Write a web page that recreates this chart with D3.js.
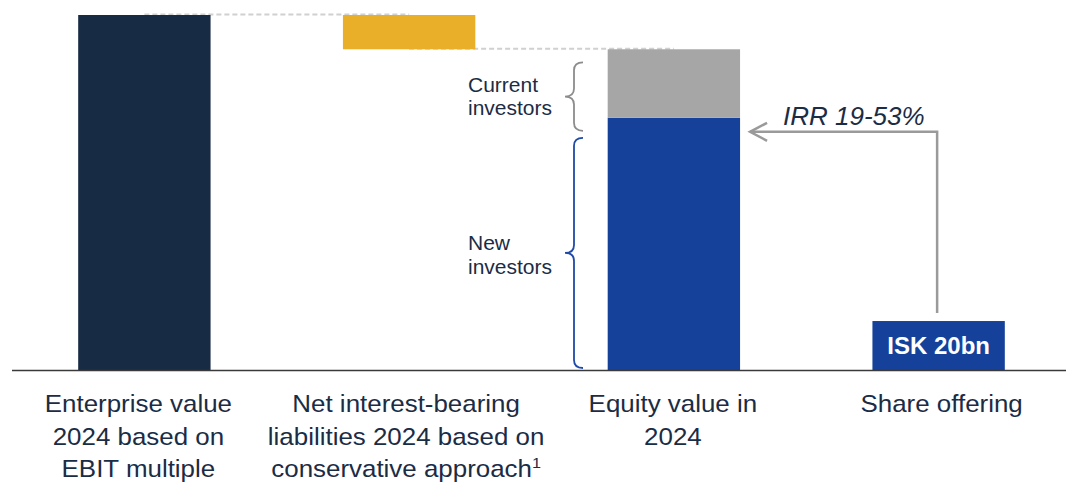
<!DOCTYPE html>
<html>
<head>
<meta charset="utf-8">
<script src="https://cdn.jsdelivr.net/npm/d3@7"></script>
<style>
  body { margin: 0; background: #fff; }
  text { font-family: "Liberation Sans", Arial, sans-serif; }
</style>
</head>
<body>
<div id="chart"></div>
<script>
// data (ISK bn, estimated)
const categories = ["ev", "nibd", "equity", "offering"];
const categoryLabels = [
  ["Enterprise value", "2024 based on", "EBIT multiple"],
  ["Net interest-bearing", "liabilities 2024 based on", "conservative approach"],
  ["Equity value in", "2024"],
  ["Share offering"]
];
const enterpriseValue = 145;
const netDebt = 14;
const currentInvestors = 28;
const newInvestors = 103;
const shareOffering = 20;
const irrLabel = "IRR 19-53%";
const offeringLabel = "ISK 20bn";

const width = 1066;
const height = 485;
const baseY = 370;
const textColor = "#1b2c45";

const svg = d3.select("#chart")
  .append("svg")
  .attr("width", width)
  .attr("height", height);

const x = d3.scaleBand()
  .domain(categories)
  .range([12, 1071])
  .paddingInner(0.5)
  .paddingOuter(0.25);

const y = d3.scaleLinear()
  .domain([0, enterpriseValue])
  .range([baseY, 15]);

const bw = x.bandwidth();
const cx = d => x(d) + bw / 2;

const equityValue = enterpriseValue - netDebt;

// dashed connectors (behind the bars)
const connectors = [
  { from: "ev", to: "nibd", v: enterpriseValue },
  { from: "nibd", to: "equity", v: equityValue }
];
svg.selectAll("line.conn")
  .data(connectors)
  .enter()
  .append("line")
  .attr("x1", d => cx(d.from))
  .attr("x2", d => cx(d.to))
  .attr("y1", d => y(d.v) - 0.5)
  .attr("y2", d => y(d.v) - 0.5)
  .attr("stroke", "#d0d0d0")
  .attr("stroke-width", 2)
  .attr("stroke-dasharray", "5,3");

// bars
const bars = [
  { cat: "ev", y0: 0, y1: enterpriseValue, color: "#172b45" },
  { cat: "nibd", y0: equityValue, y1: enterpriseValue, color: "#e9af28" },
  { cat: "equity", y0: 0, y1: newInvestors, color: "#15419b" },
  { cat: "equity", y0: newInvestors, y1: newInvestors + currentInvestors, color: "#a6a6a6" },
  { cat: "offering", y0: 0, y1: shareOffering, color: "#15419b" }
];
svg.selectAll("rect.bar")
  .data(bars)
  .enter()
  .append("rect")
  .attr("x", d => x(d.cat))
  .attr("width", bw)
  .attr("y", d => y(d.y1))
  .attr("height", d => y(d.y0) - y(d.y1))
  .attr("fill", d => d.color);

// baseline
svg.append("line")
  .attr("x1", 12)
  .attr("x2", width)
  .attr("y1", baseY + 0.5)
  .attr("y2", baseY + 0.5)
  .attr("stroke", "#3a3a3a")
  .attr("stroke-width", 1.5);

// category labels (text boxes sit a little off the bar centres)
const labelShift = [-6, -3, -1, 3];
categoryLabels.forEach((lines, i) => {
  const g = svg.append("g")
    .attr("transform", `translate(${cx(categories[i]) + labelShift[i]},0) scale(1.08,1)`);
  const t = g.append("text")
    .attr("text-anchor", "middle")
    .attr("font-size", 24)
    .attr("fill", textColor);
  lines.forEach((ln, j) => {
    t.append("tspan")
      .attr("x", 0)
      .attr("y", 412 + j * 32.7)
      .text(ln);
  });
  if (i === 1) {
    t.append("tspan")
      .attr("font-size", 15)
      .attr("dy", -9)
      .text("1");
  }
});

// share offering label
svg.append("text")
  .attr("x", cx("offering"))
  .attr("y", (y(shareOffering) + baseY) / 2 + 8.5)
  .attr("text-anchor", "middle")
  .attr("font-size", 24)
  .attr("font-weight", "bold")
  .attr("fill", "#fff")
  .text(offeringLabel);

// curly brace path, vertical, tip pointing left
function brace(xr, y0, y1, depth) {
  const xm = xr - depth / 2;
  const xt = xr - depth;
  const ym = (y0 + y1) / 2;
  const r = 8;
  return `M${xr},${y0} Q${xm},${y0} ${xm},${y0 + r}` +
    ` L${xm},${ym - r} Q${xm},${ym} ${xt},${ym}` +
    ` Q${xm},${ym} ${xm},${ym + r}` +
    ` L${xm},${y1 - r} Q${xm},${y1} ${xr},${y1}`;
}

const braces = [
  { y0: y(equityValue) + 13, y1: y(newInvestors) + 13, color: "#8c8c8c", lines: ["Current", "investors"], dy: -5 },
  { y0: y(newInvestors) + 20, y1: baseY - 2, color: "#1f4aa8", lines: ["New", "investors"], dy: -2.5 }
];
braces.forEach(b => {
  svg.append("path")
    .attr("d", brace(583, b.y0, b.y1, 18))
    .attr("fill", "none")
    .attr("stroke", b.color)
    .attr("stroke-width", 1.8);
  const ym = (b.y0 + b.y1) / 2;
  const t = svg.append("text")
    .attr("font-size", 21)
    .attr("fill", textColor);
  b.lines.forEach((ln, j) => {
    t.append("tspan")
      .attr("x", 468)
      .attr("y", ym + b.dy + j * 23.7)
      .text(ln);
  });
});

// IRR arrow
const arrowY = y(newInvestors) + 14;
const arrowX = cx("offering") - 1.5;
const tipX = x("equity") + bw + 10;
svg.append("path")
  .attr("d", `M${arrowX},${y(shareOffering) - 8} L${arrowX},${arrowY} L${tipX},${arrowY}`)
  .attr("fill", "none")
  .attr("stroke", "#9a9a9a")
  .attr("stroke-width", 2.5);
svg.append("path")
  .attr("d", `M${tipX + 17},${arrowY - 9} L${tipX},${arrowY} L${tipX + 17},${arrowY + 9}`)
  .attr("fill", "none")
  .attr("stroke", "#9a9a9a")
  .attr("stroke-width", 2.5);

svg.append("text")
  .attr("x", 783)
  .attr("y", 125)
  .attr("font-size", 26)
  .attr("font-style", "italic")
  .attr("fill", textColor)
  .text(irrLabel);
</script>
</body>
</html>
